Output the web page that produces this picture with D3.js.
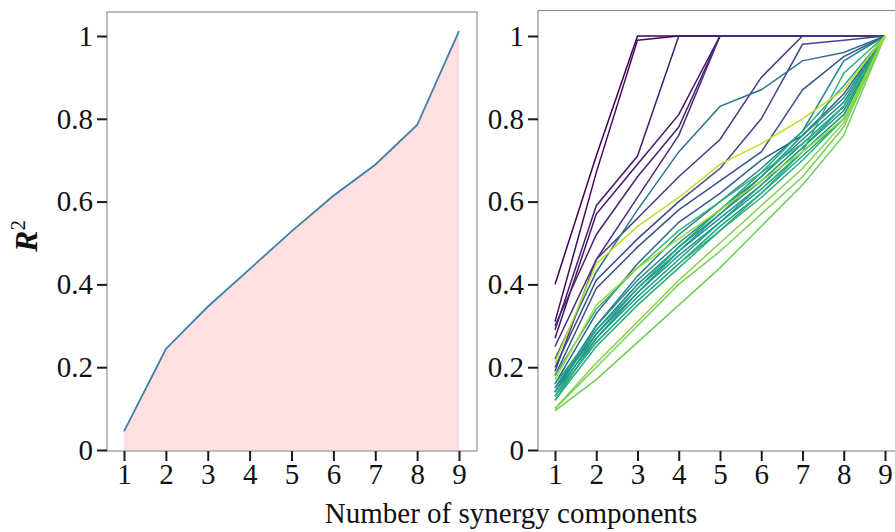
<!DOCTYPE html>
<html>
<head>
<meta charset="utf-8">
<script src="https://cdn.jsdelivr.net/npm/d3@7"></script>
<style>
  body { margin: 0; background: #fff; }
  svg { display: block; }
  text { font-family: "Liberation Serif", "Times New Roman", serif; fill: #111; }
</style>
</head>
<body>
<svg id="chart" width="895" height="532"></svg>
<script>
// Number of synergy components on the x axis
const components = [1, 2, 3, 4, 5, 6, 7, 8, 9];

// Mean variance explained across subjects
const meanR2 = [0.045, 0.244, 0.346, 0.437, 0.528, 0.614, 0.689, 0.785, 1.012];

// Axis ticks
const yTicks = [0, 0.2, 0.4, 0.6, 0.8, 1];
const yTickLabels = ["0", "0.2", "0.4", "0.6", "0.8", "1"];
const xTickLabels = ["1", "2", "3", "4", "5", "6", "7", "8", "9"];

// Per-subject variance explained, one array per subject
const subjectR2 = [
  [0.40, 0.71, 1.00, 1.00, 1.00, 1.00, 1.00, 1.00, 1.00],
  [0.31, 0.67, 0.99, 1.00, 1.00, 1.00, 1.00, 1.00, 1.00],
  [0.27, 0.57, 0.69, 0.81, 1.00, 1.00, 1.00, 1.00, 1.00],
  [0.29, 0.59, 0.71, 1.00, 1.00, 1.00, 1.00, 1.00, 1.00],
  [0.30, 0.52, 0.66, 0.78, 1.00, 1.00, 1.00, 1.00, 1.00],
  [0.25, 0.46, 0.61, 0.76, 1.00, 1.00, 1.00, 1.00, 1.00],
  [0.19, 0.46, 0.56, 0.66, 0.75, 0.90, 1.00, 1.00, 1.00],
  [0.20, 0.41, 0.51, 0.60, 0.68, 0.80, 0.98, 0.99, 1.00],
  [0.18, 0.39, 0.49, 0.58, 0.65, 0.72, 0.87, 0.95, 1.00],
  [0.16, 0.33, 0.45, 0.55, 0.62, 0.70, 0.76, 0.86, 1.00],
  [0.22, 0.43, 0.58, 0.72, 0.83, 0.87, 0.94, 0.96, 1.00],
  [0.14, 0.30, 0.42, 0.52, 0.60, 0.68, 0.77, 0.94, 1.00],
  [0.15, 0.30, 0.41, 0.50, 0.58, 0.66, 0.75, 0.84, 1.00],
  [0.14, 0.29, 0.40, 0.49, 0.57, 0.65, 0.74, 0.83, 1.00],
  [0.15, 0.28, 0.39, 0.48, 0.56, 0.64, 0.73, 0.82, 1.00],
  [0.13, 0.28, 0.38, 0.48, 0.57, 0.66, 0.76, 0.85, 1.00],
  [0.14, 0.27, 0.38, 0.47, 0.55, 0.63, 0.72, 0.81, 1.00],
  [0.12, 0.27, 0.37, 0.46, 0.55, 0.64, 0.73, 0.83, 1.00],
  [0.13, 0.26, 0.36, 0.45, 0.54, 0.62, 0.71, 0.80, 1.00],
  [0.16, 0.29, 0.39, 0.49, 0.58, 0.67, 0.77, 0.88, 1.00],
  [0.12, 0.25, 0.35, 0.44, 0.53, 0.61, 0.70, 0.80, 1.00],
  [0.13, 0.26, 0.36, 0.45, 0.53, 0.62, 0.72, 0.91, 1.00],
  [0.18, 0.34, 0.44, 0.53, 0.60, 0.67, 0.74, 0.83, 1.00],
  [0.095, 0.17, 0.26, 0.35, 0.44, 0.54, 0.64, 0.76, 1.00],
  [0.10, 0.20, 0.30, 0.40, 0.48, 0.57, 0.66, 0.78, 1.00],
  [0.10, 0.21, 0.31, 0.41, 0.50, 0.59, 0.68, 0.79, 1.00],
  [0.17, 0.35, 0.44, 0.51, 0.58, 0.65, 0.72, 0.80, 1.00],
  [0.21, 0.45, 0.54, 0.61, 0.69, 0.74, 0.80, 0.87, 1.00]
];

const svg = d3.select("#chart");
const FONT = 29;

// Shared vertical scale for both panels
const y = d3.scaleLinear().domain([0, 1]).range([450, 36]);

function drawPanel(frame, xRange) {
  const x = d3.scaleLinear().domain([1, 9]).range(xRange);
  const g = svg.append("g");

  // panel border
  g.append("rect")
    .attr("x", frame.left).attr("y", frame.top)
    .attr("width", frame.right - frame.left)
    .attr("height", frame.bottom - frame.top)
    .attr("fill", "none").attr("stroke", "#8f8f8f").attr("stroke-width", 1.2);

  const yAxis = d3.axisLeft(y)
    .tickValues(yTicks)
    .tickFormat((d, i) => yTickLabels[i])
    .tickSize(10).tickSizeOuter(0).tickPadding(4);
  const ya = g.append("g").attr("transform", `translate(${frame.left},0)`).call(yAxis);

  const xAxis = d3.axisBottom(x)
    .tickValues(components)
    .tickFormat((d, i) => xTickLabels[i])
    .tickSize(10).tickSizeOuter(0).tickPadding(2);
  const xa = g.append("g").attr("transform", `translate(0,${frame.bottom})`).call(xAxis);

  [ya, xa].forEach(a => {
    a.select(".domain").remove();
    a.selectAll(".tick line").attr("stroke", "#1a1a1a").attr("stroke-width", 2);
    a.selectAll(".tick text")
      .attr("font-family", '"Liberation Serif", "Times New Roman", serif')
      .attr("font-size", FONT).attr("fill", "#111");
  });

  return { g, x };
}

// Left panel: mean curve with shaded area
const left = drawPanel({ left: 107, right: 477, top: 12, bottom: 451 }, [124, 459]);
const meanPts = components.map((c, i) => ({ c, v: meanR2[i] }));
left.g.insert("path", ":first-child")
  .datum(meanPts)
  .attr("fill", "#fde0df")
  .attr("d", d3.area().x(d => left.x(d.c)).y0(y(0)).y1(d => y(d.v)));
left.g.append("path")
  .datum(meanPts)
  .attr("fill", "none")
  .attr("stroke", "#3f7fa6")
  .attr("stroke-width", 1.8)
  .attr("d", d3.line().x(d => left.x(d.c)).y(d => y(d.v)));

// Right panel: one curve per subject, coloured along viridis by subject order
const right = drawPanel({ left: 538, right: 908, top: 10.5, bottom: 451 }, [555, 885]);
const n = subjectR2.length;
const shade = d3.scaleLinear()
  .domain([0, 5, 9, 11, 22, 23, 25, n - 1])
  .range([0.0, 0.13, 0.3, 0.45, 0.66, 0.78, 0.81, 0.9]);
const colour = i => d3.interpolateViridis(shade(i));
const line = d3.line().x((d, i) => right.x(components[i])).y(d => y(d));
right.g.append("g")
  .selectAll("path")
  .data(subjectR2)
  .join("path")
  .attr("fill", "none")
  .attr("stroke", (d, i) => colour(i))
  .attr("stroke-width", 1.5)
  .attr("d", line);

// Axis titles
svg.append("text")
  .attr("x", 511).attr("y", 523)
  .attr("text-anchor", "middle")
  .attr("font-size", FONT)
  .text("Number of synergy components");

const yTitle = svg.append("text")
  .attr("transform", "translate(37,236) rotate(-90)")
  .attr("text-anchor", "middle")
  .attr("font-size", 32);
yTitle.append("tspan").attr("font-style", "italic").attr("font-weight", "bold").text("R");
yTitle.append("tspan").attr("font-size", 21).attr("dy", -12).text("2");
</script>
</body>
</html>
